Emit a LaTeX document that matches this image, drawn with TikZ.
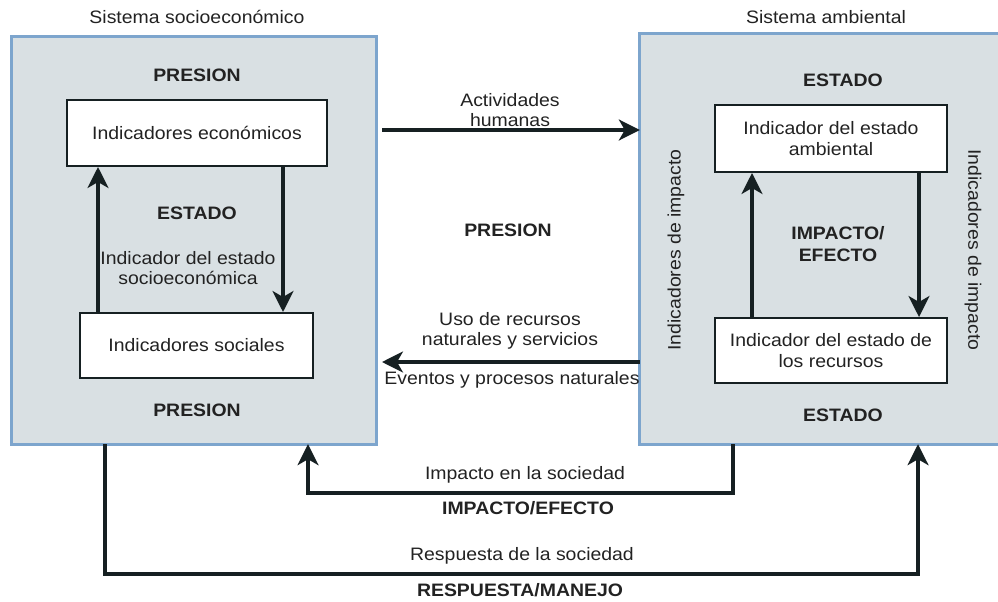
\documentclass[tikz,border=0pt]{standalone}
\usepackage{fontspec}
\setmainfont{Liberation Sans}[FakeStretch=1.08]
\usetikzlibrary{arrows.meta}
\definecolor{boxfill}{HTML}{D9E0E3}
\definecolor{boxedge}{HTML}{7DA5CD}
\definecolor{ink}{HTML}{162022}
\definecolor{txt}{HTML}{222222}
\tikzset{
  outer/.style={fill=boxfill, draw=none, inner sep=0pt},
  outeredge/.style={draw=boxedge, line width=3pt},
  inner/.style={draw=ink, fill=white, line width=2pt, inner sep=0pt, align=center, text=txt},
  lbl/.style={text=txt, align=center, inner sep=0pt, font=\fontsize{18}{20.5}\selectfont},
  blbl/.style={lbl, font=\fontsize{18}{22}\selectfont\bfseries},
  conn/.style={draw=ink, line width=3.3pt, -{Stealth[length=21pt,width=21pt,inset=6pt]}},
  plain/.style={draw=ink, line width=3.3pt}
}
\begin{document}
\begin{tikzpicture}[x=1pt,y=-1pt]
\useasboundingbox (0,0) rectangle (998,602);
% outer boxes
\node[outer, minimum width=364pt, minimum height=407pt] (L) at (194,240.5) {};
\draw[outeredge] (L.north west) rectangle (L.south east);
\node[outer, minimum width=358pt, minimum height=410pt] (R) at (819,239) {};
\draw[outeredge] (R.north east) -- (R.north west) -- (R.south west) -- (R.south east);
% titles
\node[lbl] (tL) at (197,17) {Sistema socioeconómico};
\node[lbl] (tR) at (826,17) {Sistema ambiental};
% left box contents
\node[blbl] (p1) at (197,75) {PRESION};
\node[inner, minimum width=260pt, minimum height=66pt, font=\fontsize{18}{20.5}\selectfont] (eco) at (197,133) {Indicadores económicos};
\node[blbl] (e1) at (197,213) {ESTADO};
\node[lbl] (ise) at (188,268) {Indicador del estado\\socioeconómica};
\node[inner, minimum width=233pt, minimum height=65pt, font=\fontsize{18}{20.5}\selectfont] (soc) at (196.5,345.5) {Indicadores sociales};
\node[blbl] (p2) at (197,410) {PRESION};
\draw[conn] (soc.north -| 98,0) -- (eco.south -| 98,0);
\draw[conn] (eco.south -| 283,0) -- (soc.north -| 283,0);
% right box contents
\node[blbl] (e2) at (843,80) {ESTADO};
\node[inner, minimum width=232pt, minimum height=67pt, font=\fontsize{18}{20.5}\selectfont] (amb) at (831,138.5) {Indicador del estado\\ambiental};
\node[blbl] (ie) at (838,244) {IMPACTO/\\EFECTO};
\node[inner, minimum width=232pt, minimum height=65pt, font=\fontsize{18}{20.5}\selectfont] (rec) at (831,350.5) {Indicador del estado de\\los recursos};
\node[blbl] (e3) at (843,415) {ESTADO};
\node[lbl, rotate=90] (ii1) at (676,250) {Indicadores de impacto};
\node[lbl, rotate=-90] (ii2) at (973,250) {Indicadores de impacto};
\draw[conn] (rec.north -| 752,0) -- (amb.south -| 752,0);
\draw[conn] (amb.south -| 919,0) -- (rec.north -| 919,0);
% middle
\node[lbl] (act) at (510,110) {Actividades\\humanas};
\coordinate (a1) at (382,130);
\draw[conn] (a1) -- (a1 -| R.west);
\node[blbl] (pm) at (508,230) {PRESION};
\node[lbl] (uso) at (510,331) {Uso de recursos\\naturales y servicios};
\coordinate (a2) at (382,362);
\draw[conn] (a2 -| R.west) -- (a2);
\node[lbl] (ev) at (512,380) {Eventos y procesos naturales};
% bottom connectors
\coordinate (i1) at (733,493);
\coordinate (i2) at (308,493);
\draw[conn] (R.south -| i1) -- (i1) -- (i2) -- (L.south -| i2);
\node[lbl] (ims) at (525,475) {Impacto en la sociedad};
\node[blbl] (imef) at (528,508) {IMPACTO/EFECTO};
\coordinate (r1) at (105,574);
\coordinate (r2) at (918,574);
\draw[conn] (L.south -| r1) -- (r1) -- (r2) -- (R.south -| r2);
\node[lbl] (rs) at (522,556) {Respuesta de la sociedad};
\node[blbl] (rm) at (520,590) {RESPUESTA/MANEJO};
\end{tikzpicture}
\end{document}
